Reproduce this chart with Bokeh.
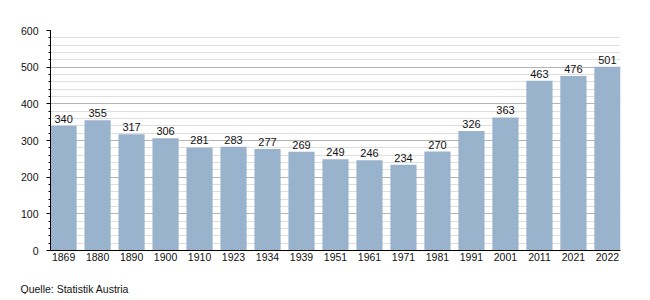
from bokeh.plotting import figure
from bokeh.models import Range1d, FixedTicker, ColumnDataSource, LabelSet, Title
from bokeh.core.properties import value
from bokeh.embed import file_html
from bokeh.resources import INLINE

years = ["1869", "1880", "1890", "1900", "1910", "1923", "1934", "1939", "1951",
         "1961", "1971", "1981", "1991", "2001", "2011", "2021", "2022"]
values = [340, 355, 317, 306, 281, 283, 277, 269, 249, 246, 234, 270, 326, 363, 463, 476, 501]
y_ticks = [0, 100, 200, 300, 400, 500, 600]

idx = list(range(len(years)))
src = ColumnDataSource(dict(x=idx, top=values, lbl=[str(v) for v in values]))

FONT = "Liberation Sans"
p = figure(frame_width=570, frame_height=220, output_backend="svg", toolbar_location=None,
           x_range=Range1d(-0.385, len(years) - 1 + 0.385), y_range=Range1d(0, 600),
           min_border_left=50, min_border_right=30, min_border_top=30, min_border_bottom=0)
p.outline_line_color = None
p.background_fill_color = "white"

p.vbar(x="x", top="top", width=0.77, bottom=0, source=src,
       fill_color="#9ab3cd", line_color=None)

labels = LabelSet(x="x", y="top", text="lbl", source=src, text_align="center",
                  text_baseline="bottom", y_offset=3, text_font_size="11px",
                  text_color="#111111", text_font=value(FONT))
p.add_layout(labels)

# y axis
p.yaxis.ticker = FixedTicker(ticks=y_ticks, minor_ticks=list(range(0, 601, 20)))
p.yaxis.major_label_text_font = FONT
p.yaxis.major_label_text_font_size = "10.5px"
p.yaxis.major_label_text_color = "#111111"
p.yaxis.axis_line_color = "black"
p.yaxis.major_tick_line_color = "black"
p.yaxis.minor_tick_line_color = "black"
p.yaxis.major_tick_out = 4
p.yaxis.major_tick_in = 0
p.yaxis.minor_tick_out = 2
p.yaxis.minor_tick_in = 0
p.yaxis.major_label_standoff = 8

# x axis
p.xaxis.ticker = FixedTicker(ticks=idx)
p.xaxis.major_label_overrides = {i: y for i, y in zip(idx, years)}
p.xaxis.major_label_text_font = FONT
p.xaxis.major_label_text_font_size = "10.5px"
p.xaxis.major_label_text_color = "#111111"
p.xaxis.axis_line_color = "black"
p.xaxis.major_tick_line_color = None
p.xaxis.minor_tick_line_color = None
p.xaxis.major_tick_out = 0
p.xaxis.major_tick_in = 0
p.xaxis.minor_tick_out = 0
p.xaxis.major_label_standoff = 2
# invisible spacer label to push the source note down
p.xaxis.axis_label = " "
p.xaxis.axis_label_text_font_size = "1px"
p.xaxis.axis_label_standoff = 13

p.xgrid.grid_line_color = None
p.ygrid.grid_line_color = "#b4b4b4"
p.ygrid.minor_grid_line_color = "#dedede"

cap = Title(text="Quelle: Statistik Austria", align="left", offset=-30,
            text_font=FONT, text_font_size="10.5px", text_font_style="normal",
            text_color="#111111", standoff=0)
p.add_layout(cap, "below")

open("out.html", "w").write(file_html(p, INLINE))
